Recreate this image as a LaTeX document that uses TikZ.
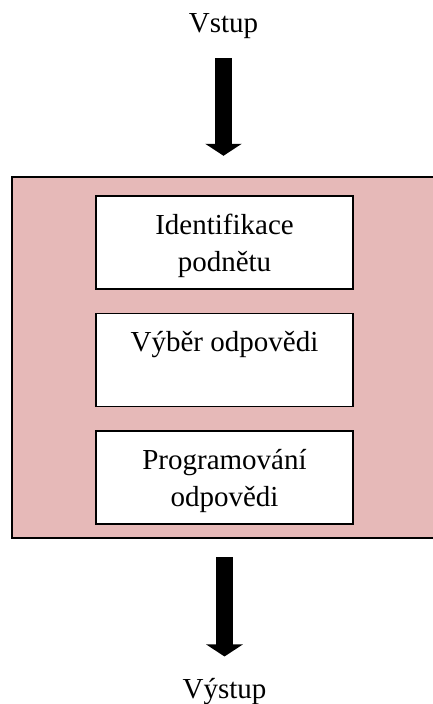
\documentclass[tikz,border=0pt]{standalone}
\usepackage{fontspec}
\setmainfont{Liberation Serif}
\usetikzlibrary{positioning,arrows.meta}
\definecolor{framepink}{RGB}{230,185,184}

\begin{document}
\begin{tikzpicture}[font=\fontsize{16.5}{21}\selectfont,
    iolabel/.style={inner sep=0pt},
    stagebox/.style={rectangle, draw, fill=white, line width=1pt, align=center, minimum width=5.14cm, minimum height=1.86cm, text depth=0pt},
    bigarrow/.style={line width=0.34cm, -{Triangle[length=0.24cm, width=0.72cm]}}]
    \useasboundingbox (0,0) rectangle (8.66,14.08);
    % pink frame (runs off the right edge)
    \node[rectangle, draw, fill=framepink, line width=1.4pt, minimum width=8.5cm, minimum height=7.22cm] (frame) at (4.49,6.93) {};
    \node[stagebox] (ident) at (4.49,9.23) {Identifikace\\podnětu};
    \node[stagebox, below=0.455cm of ident] (select) {Výběr odpovědi\\~};
    \node[stagebox, below=0.455cm of select] (program) {Programování\\odpovědi};
    \node[iolabel, anchor=base] (input) at (4.47,13.42) {Vstup};
    \node[iolabel, anchor=base] (output) at (4.49,0.1) {Výstup};
    \draw[bigarrow, shorten <=0.37cm, shorten >=0.4cm] (input) -- (input |- frame.north);
    \draw[bigarrow, shorten <=0.36cm, shorten >=0.44cm] (frame.south) -- (output);
\end{tikzpicture}
\end{document}
